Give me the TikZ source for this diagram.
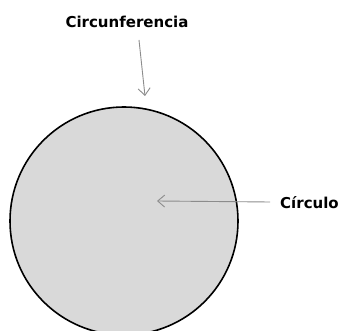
\documentclass[tikz,border=0pt]{standalone}
\usepackage{fontspec}
\setmainfont{DejaVu Sans}
\usetikzlibrary{arrows.meta}
\begin{document}
\begin{tikzpicture}[x=1pt,y=-1pt,
  lbl/.style={font=\bfseries\fontsize{15}{17}\selectfont, inner sep=0pt},
  pointer/.style={draw=black!45, line width=0.9pt, -{Straight Barb[length=7pt,width=12pt]}}]
\useasboundingbox (0,0) rectangle (340,331);
\clip (0,0) rectangle (340,331);
\fill[white] (0,0) rectangle (340,331);
\node[circle, draw=black, line width=1.6pt, fill=black!15, minimum size=228pt, inner sep=0pt] (c) at (124,221) {};
\node[lbl] (t1) at (127,22) {Circunferencia};
\node[lbl, anchor=west] (t2) at (280,203) {Círculo};
\coordinate (a1s) at (139,40);
\coordinate (a1e) at (145,96);
\coordinate (a2s) at (270,202);
\coordinate (a2e) at (157,201);
\draw[pointer] (a1s) -- (a1e);
\draw[pointer] (a2s) -- (a2e);
\end{tikzpicture}
\end{document}
